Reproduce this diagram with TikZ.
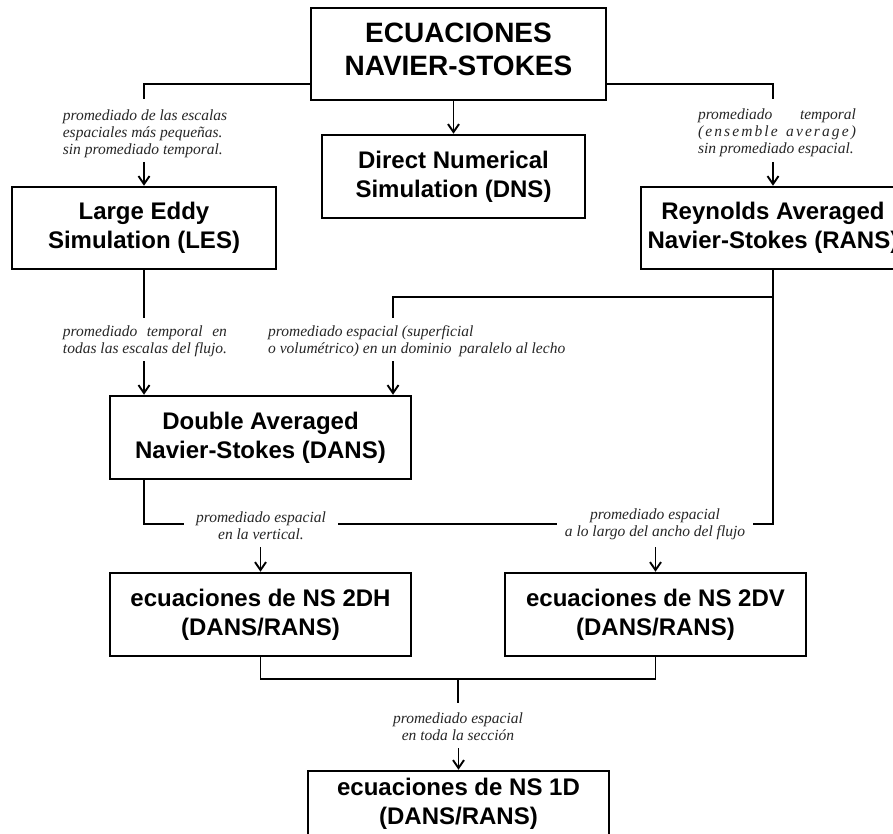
\documentclass[tikz,border=0pt]{standalone}
\usepackage{fontspec}
\setmainfont{Liberation Sans}
\newfontfamily\lblfont{Liberation Serif}
\usetikzlibrary{arrows.meta}
\begin{document}
\begin{tikzpicture}[x=1pt,y=-1pt,
  box/.style={draw, line width=2.5pt, rectangle, align=center, inner sep=0pt,
    font=\fontsize{24}{29}\selectfont\bfseries},
  conn/.style={line width=1.9pt},
  arr/.style={line width=1.9pt, -{Straight Barb[length=8pt,width=11pt,line width=1.9pt]}},
  lbl/.style={font=\lblfont\itshape\fontsize{15.5}{17}\selectfont, inner sep=0pt, align=left, text=black!85}
]
\useasboundingbox (0,0) rectangle (893,834);
\clip (0,0) rectangle (893,834);

% boxes
\node[box, minimum width=295pt, minimum height=92pt] (ns) at (458.5,54) {};
\node[font=\fontsize{28}{33}\selectfont\bfseries, align=center, inner sep=0pt] (nstxt) at (458.5,49) {ECUACIONES\\NAVIER-STOKES};
\node[box, minimum width=263pt, minimum height=83pt] (dns) at (453.5,176.5) {Direct Numerical\\Simulation (DNS)};
\node[box, minimum width=264pt, minimum height=82pt] (les) at (144,228) {Large Eddy\\Simulation (LES)};
\node[box, minimum width=264pt, minimum height=82pt] (rans) at (773,228) {Reynolds Averaged\\Navier-Stokes (RANS)};
\node[box, minimum width=301pt, minimum height=83pt] (dans) at (260.5,437.5) {Double Averaged\\Navier-Stokes (DANS)};
\node[box, minimum width=301pt, minimum height=83pt] (h2) at (260.5,614.5) {ecuaciones de NS 2DH\\(DANS/RANS)};
\node[box, minimum width=301pt, minimum height=83pt] (v2) at (655.5,614.5) {ecuaciones de NS 2DV\\(DANS/RANS)};
\node[box, minimum width=301pt, minimum height=65pt] (d1) at (458.5,803.5) {ecuaciones de NS 1D\\(DANS/RANS)};

% free ends
\coordinate (aL) at (144,99);
\coordinate (aR) at (773,99);
\coordinate (bL) at (144,318);
\coordinate (bR) at (393,318);
\coordinate (jn) at (458,679);

% connectors
\draw[conn] (ns.west |- 0,84) -| (aL);
\draw[conn] (ns.east |- 0,84) -| (aR);
\draw[arr] (ns.south -| dns.north) -- (dns.north);
\draw[arr] (les.north |- 0,162) -- (les.north);
\draw[arr] (rans.north |- 0,162) -- (rans.north);
\draw[conn] (les.south) -- (bL);
\draw[conn] (rans.south |- 0,297) -| (bR);
\draw[arr] (144,361) -- (dans.north -| 144,0);
\draw[arr] (393,361) -- (dans.north -| 393,0);
\draw[conn] (dans.south -| 144,0) -- (144,524) -- (773,524) -- (rans.south);
\draw[arr] (h2.north |- 0,547) -- (h2.north);
\draw[arr] (v2.north |- 0,547) -- (v2.north);
\draw[conn] (h2.south) |- (jn) -| (v2.south);
\draw[conn] (jn) -- (458,703);
\draw[arr] (d1.north |- 0,748) -- (d1.north);

% labels
\node[lbl] (labA) at (145,134) {promediado de las escalas\\espaciales más pequeñas.\\sin promediado temporal.};
\node[lbl] (labB) at (777,133) {\hbox to 158pt{promediado\hfill temporal}\\
  \hbox to 158pt{(\hfil e\hfil n\hfil s\hfil e\hfil m\hfil b\hfil l\hfil e\hfil\hfil\hfil\hfil a\hfil v\hfil e\hfil r\hfil a\hfil g\hfil e\hfil )}\\
  sin promediado espacial.};
\node[lbl] (labC) at (145,341) {\hbox to 164pt{promediado\hfill temporal\hfill en}\\todas las escalas del flujo.};
\node[lbl, anchor=west] (labD) at (268,341) {promediado espacial (superficial\\o volumétrico) en un dominio\ \ paralelo al lecho};
\node[lbl, align=center, fill=white, inner xsep=12pt, inner ysep=2pt] (labE) at (261,526) {promediado espacial\\en la vertical.};
\node[lbl, align=center, fill=white, inner xsep=8pt, inner ysep=2pt] (labF) at (655,524) {promediado espacial\\a lo largo del ancho del flujo};
\node[lbl, align=center] (labG) at (458,726.5) {promediado espacial\\en toda la sección};
\end{tikzpicture}
\end{document}
